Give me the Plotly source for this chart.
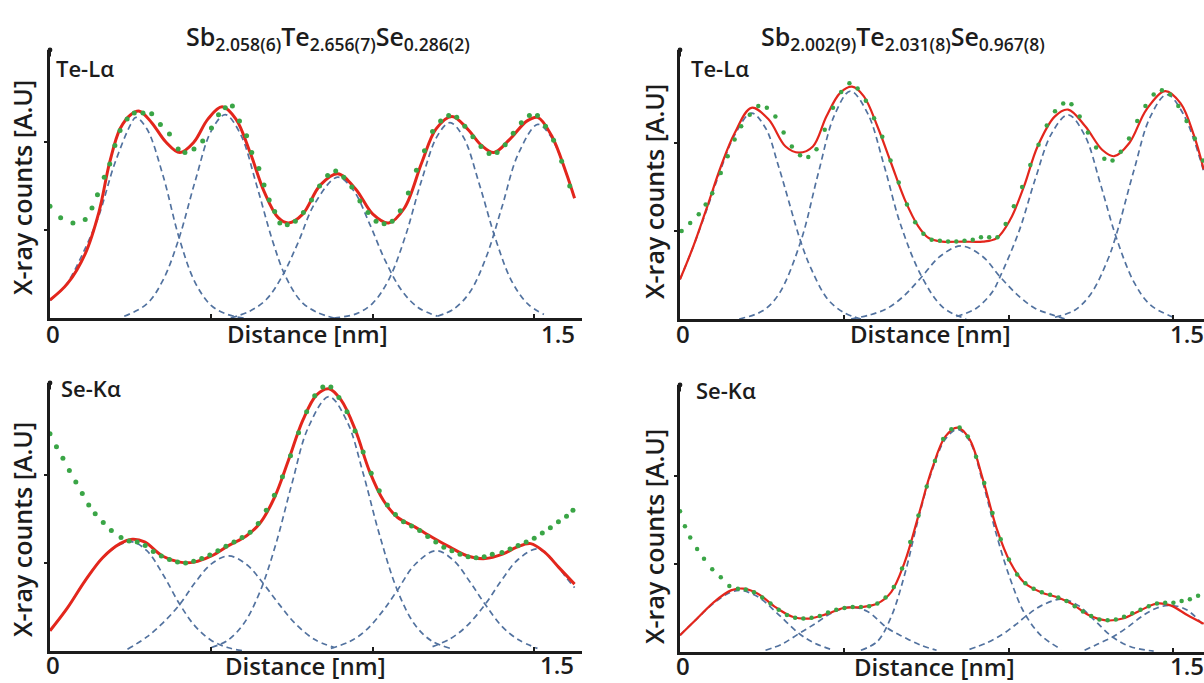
import plotly.graph_objects as go

W, H = 1204, 683

# ---------------- data ----------------
# Top-left: Sb2.058Te2.656Se0.286, Te-La
tl_fit_x = [0, 0.054, 0.109, 0.152, 0.185, 0.217, 0.25, 0.277, 0.315, 0.359, 0.402, 0.446, 0.489, 0.533,
            0.576, 0.62, 0.663, 0.707, 0.739, 0.783, 0.837, 0.891, 0.946, 1.0, 1.049, 1.098, 1.152, 1.196,
            1.245, 1.293, 1.337, 1.375, 1.424, 1.478, 1.511, 1.554, 1.598, 1.625]
tl_fit_y = [0.205, 0.39, 0.73, 1.21, 1.77, 2.15, 2.31, 2.35, 2.22, 2.0, 1.88, 2.0, 2.26, 2.40,
            2.26, 1.88, 1.44, 1.14, 1.08, 1.18, 1.51, 1.64, 1.47, 1.18, 1.08, 1.25, 1.77, 2.15,
            2.29, 2.15, 1.96, 1.88, 2.03, 2.24, 2.28, 2.07, 1.66, 1.36]
tl_dat_x = [0, 0.033, 0.071, 0.109, 0.13, 0.147, 0.168, 0.185, 0.201, 0.217, 0.239, 0.261, 0.288, 0.315,
            0.342, 0.37, 0.397, 0.418, 0.446, 0.473, 0.5, 0.522, 0.543, 0.565, 0.587, 0.609, 0.625, 0.647,
            0.663, 0.679, 0.696, 0.712, 0.735, 0.76, 0.785, 0.81, 0.835, 0.86, 0.885, 0.91, 0.935, 0.96,
            0.985, 1.01, 1.035, 1.06, 1.085, 1.11, 1.135, 1.16, 1.185, 1.21, 1.235, 1.26, 1.285, 1.31,
            1.335, 1.36, 1.385, 1.41, 1.435, 1.46, 1.485, 1.51, 1.535, 1.56, 1.585, 1.61]
tl_dat_y = [1.27, 1.14, 1.08, 1.12, 1.25, 1.40, 1.60, 1.75, 1.96, 2.13, 2.26, 2.33, 2.33, 2.32,
            2.20, 2.09, 1.92, 1.88, 1.92, 2.01, 2.16, 2.31, 2.39, 2.41, 2.24, 2.07, 1.88, 1.70,
            1.51, 1.34, 1.21, 1.08, 1.06, 1.10, 1.20, 1.34, 1.50, 1.62, 1.67, 1.60, 1.49, 1.33,
            1.20, 1.10, 1.07, 1.10, 1.22, 1.42, 1.68, 1.90, 2.12, 2.24, 2.30, 2.28, 2.18, 2.06,
            1.95, 1.87, 1.88, 1.97, 2.10, 2.22, 2.30, 2.30, 2.18, 2.02, 1.78, 1.50]
tl_gx = [
    [0, 0.05, 0.1, 0.15, 0.2, 0.25, 0.266, 0.3, 0.35, 0.4, 0.45, 0.5, 0.55, 0.6],
    [0.23, 0.3, 0.35, 0.4, 0.45, 0.5, 0.543, 0.59, 0.64, 0.69, 0.73, 0.78, 0.83, 0.88],
    [0.56, 0.62, 0.67, 0.72, 0.77, 0.82, 0.891, 0.94, 0.99, 1.04, 1.09, 1.14, 1.2],
    [0.88, 0.95, 1.0, 1.05, 1.1, 1.15, 1.2, 1.239, 1.28, 1.33, 1.38, 1.43, 1.48, 1.53],
    [1.2, 1.25, 1.3, 1.35, 1.4, 1.45, 1.511, 1.55, 1.6, 1.625],
]
tl_gy = [
    [0.2, 0.38, 0.72, 1.15, 1.75, 2.2, 2.28, 2.15, 1.62, 0.91, 0.40, 0.14, 0.04, 0.0],
    [0.02, 0.16, 0.43, 0.91, 1.56, 2.13, 2.31, 2.09, 1.51, 0.87, 0.47, 0.18, 0.06, 0.0],
    [0.0, 0.08, 0.21, 0.48, 0.87, 1.30, 1.60, 1.45, 1.07, 0.64, 0.31, 0.12, 0.02],
    [0.0, 0.05, 0.17, 0.44, 0.92, 1.55, 2.07, 2.22, 2.06, 1.52, 0.90, 0.42, 0.16, 0.04],
    [0.02, 0.10, 0.29, 0.68, 1.26, 1.86, 2.20, 2.07, 1.64, 1.36],
]

# Top-right: Sb2.002Te2.031Se0.967, Te-La
tr_fit_x = [0, 0.041, 0.083, 0.124, 0.166, 0.217, 0.269, 0.321, 0.362, 0.404, 0.445, 0.487, 0.523, 0.559,
            0.6, 0.642, 0.683, 0.725, 0.756, 0.797, 0.859, 0.921, 0.963, 1.004, 1.046, 1.087, 1.139, 1.18,
            1.232, 1.284, 1.32, 1.366, 1.418, 1.475, 1.522, 1.563, 1.592]
tr_fit_y = [0.45, 0.83, 1.28, 1.73, 2.11, 2.40, 2.27, 1.96, 1.89, 1.96, 2.30, 2.57, 2.64, 2.53,
            2.19, 1.77, 1.36, 1.05, 0.92, 0.88, 0.88, 0.88, 0.92, 1.13, 1.51, 1.96, 2.30, 2.38,
            2.19, 1.92, 1.85, 2.0, 2.38, 2.59, 2.45, 2.08, 1.70]
tr_dat_x = [0.005, 0.031, 0.057, 0.078, 0.098, 0.124, 0.145, 0.166, 0.186, 0.212, 0.238, 0.264, 0.29,
            0.315, 0.34, 0.365, 0.39, 0.415, 0.44, 0.465, 0.49, 0.515, 0.54, 0.565, 0.59, 0.615, 0.64,
            0.665, 0.69, 0.715, 0.74, 0.765, 0.79, 0.815, 0.84, 0.865, 0.89, 0.915, 0.94, 0.965, 0.99,
            1.015, 1.04, 1.065, 1.09, 1.115, 1.14, 1.165, 1.19, 1.215, 1.24, 1.265, 1.29, 1.315, 1.34,
            1.365, 1.39, 1.415, 1.44, 1.465, 1.49, 1.515, 1.54, 1.565, 1.59]
tr_dat_y = [1.0, 1.09, 1.19, 1.30, 1.43, 1.66, 1.85, 2.04, 2.19, 2.32, 2.42, 2.40, 2.30,
            2.12, 1.96, 1.86, 1.84, 1.93, 2.15, 2.40, 2.58, 2.68, 2.62, 2.48, 2.28, 2.07, 1.80,
            1.55, 1.30, 1.10, 0.97, 0.90, 0.89, 0.88, 0.88, 0.89, 0.90, 0.93, 0.93, 0.93, 1.08,
            1.28, 1.50, 1.75, 1.98, 2.20, 2.36, 2.45, 2.44, 2.30, 2.12, 1.95, 1.82, 1.80, 1.90,
            2.05, 2.25, 2.42, 2.55, 2.60, 2.55, 2.42, 2.25, 2.05, 1.80]
tr_gx = [
    [0, 0.04, 0.083, 0.124, 0.166, 0.217, 0.26, 0.3, 0.367, 0.4, 0.45, 0.5, 0.55],
    [0.18, 0.25, 0.3, 0.367, 0.42, 0.47, 0.518, 0.57, 0.62, 0.67, 0.735, 0.8, 0.87],
    [0.52, 0.58, 0.63, 0.68, 0.735, 0.79, 0.854, 0.92, 0.973, 1.03, 1.08, 1.13, 1.17],
    [0.84, 0.9, 0.95, 0.973, 1.03, 1.08, 1.13, 1.18, 1.23, 1.28, 1.325, 1.38, 1.43, 1.5],
    [1.14, 1.2, 1.25, 1.3, 1.325, 1.38, 1.43, 1.48, 1.53, 1.592],
]
tr_gy = [
    [0.45, 0.82, 1.26, 1.70, 2.09, 2.34, 2.17, 1.73, 0.88, 0.56, 0.22, 0.07, 0.0],
    [0.0, 0.09, 0.28, 0.88, 1.65, 2.32, 2.59, 2.34, 1.75, 1.08, 0.48, 0.13, 0.0],
    [0.0, 0.05, 0.12, 0.26, 0.48, 0.71, 0.83, 0.71, 0.48, 0.26, 0.12, 0.05, 0.0],
    [0.03, 0.12, 0.31, 0.48, 0.99, 1.59, 2.11, 2.32, 2.09, 1.51, 0.94, 0.42, 0.16, 0.02],
    [0.02, 0.10, 0.29, 0.67, 0.94, 1.69, 2.30, 2.55, 2.33, 1.68],
]

# Bottom-left: Sb2.058Te2.656Se0.286, Se-Ka
bl_fit_x = [0, 0.054, 0.109, 0.163, 0.217, 0.255, 0.293, 0.348, 0.402, 0.446, 0.5, 0.554, 0.609, 0.652,
            0.696, 0.739, 0.783, 0.826, 0.864, 0.902, 0.946, 0.989, 1.033, 1.076, 1.13, 1.185, 1.239,
            1.293, 1.348, 1.402, 1.446, 1.489, 1.533, 1.576, 1.625]
bl_fit_y = [0.23, 0.49, 0.80, 1.06, 1.22, 1.27, 1.24, 1.08, 1.01, 1.01, 1.08, 1.20, 1.31, 1.46,
            1.75, 2.17, 2.62, 2.91, 2.98, 2.85, 2.51, 2.05, 1.71, 1.52, 1.41, 1.29, 1.18,
            1.08, 1.05, 1.10, 1.18, 1.22, 1.12, 0.95, 0.76]
bl_dat_x = [0, 0.02, 0.04, 0.06, 0.08, 0.1, 0.12, 0.14, 0.165, 0.19, 0.22, 0.245, 0.27, 0.295, 0.32,
            0.345, 0.37, 0.395, 0.42, 0.445, 0.47, 0.495, 0.52, 0.545, 0.57, 0.595, 0.62, 0.645, 0.67,
            0.695, 0.72, 0.745, 0.77, 0.795, 0.82, 0.845, 0.87, 0.895, 0.92, 0.945, 0.97, 0.995, 1.02,
            1.045, 1.07, 1.095, 1.12, 1.145, 1.17, 1.195, 1.22, 1.245, 1.27, 1.295, 1.32, 1.345, 1.37,
            1.40, 1.425, 1.45, 1.475, 1.50, 1.525, 1.55, 1.575, 1.60, 1.62]
bl_dat_y = [2.47, 2.32, 2.19, 2.05, 1.92, 1.79, 1.66, 1.56, 1.46, 1.37, 1.29, 1.25, 1.24, 1.20, 1.13,
            1.08, 1.04, 1.01, 1.00, 1.02, 1.05, 1.09, 1.14, 1.19, 1.24, 1.29, 1.35, 1.45, 1.60,
            1.77, 1.98, 2.22, 2.48, 2.72, 2.90, 3.00, 3.00, 2.88, 2.72, 2.50, 2.26, 2.02, 1.82,
            1.66, 1.55, 1.47, 1.42, 1.37, 1.30, 1.24, 1.18, 1.14, 1.10, 1.07, 1.06, 1.07, 1.10,
            1.12, 1.16, 1.20, 1.24, 1.28, 1.34, 1.40, 1.47, 1.53, 1.60]
bl_gx = [
    [0, 0.054, 0.109, 0.163, 0.217, 0.255, 0.3, 0.35, 0.402, 0.45, 0.5, 0.55, 0.6],
    [0.24, 0.3, 0.35, 0.402, 0.45, 0.5, 0.554, 0.61, 0.66, 0.71, 0.76, 0.82, 0.88],
    [0.5, 0.55, 0.6, 0.65, 0.7, 0.75, 0.8, 0.864, 0.92, 0.97, 1.02, 1.076, 1.13, 1.18, 1.24],
    [0.87, 0.93, 0.98, 1.03, 1.076, 1.13, 1.196, 1.25, 1.3, 1.348, 1.4, 1.45, 1.51],
    [1.185, 1.24, 1.29, 1.348, 1.4, 1.45, 1.511, 1.56, 1.6, 1.625],
]
bl_gy = [
    [0.23, 0.49, 0.80, 1.06, 1.21, 1.24, 1.14, 0.87, 0.53, 0.28, 0.12, 0.04, 0.0],
    [0.02, 0.16, 0.32, 0.53, 0.78, 0.99, 1.08, 0.98, 0.77, 0.53, 0.31, 0.13, 0.04],
    [0.04, 0.12, 0.31, 0.67, 1.22, 1.91, 2.54, 2.89, 2.61, 2.02, 1.33, 0.69, 0.30, 0.12, 0.03],
    [0.03, 0.11, 0.24, 0.45, 0.69, 0.98, 1.14, 1.03, 0.79, 0.53, 0.28, 0.13, 0.03],
    [0.05, 0.14, 0.28, 0.53, 0.81, 1.04, 1.16, 1.02, 0.83, 0.72],
]

# Bottom-right: Sb2.002Te2.031Se0.967, Se-Ka
br_fit_x = [0, 0.052, 0.104, 0.155, 0.192, 0.238, 0.29, 0.342, 0.393, 0.445, 0.497, 0.549, 0.6, 0.642,
            0.683, 0.725, 0.766, 0.807, 0.844, 0.88, 0.921, 0.963, 1.004, 1.046, 1.097, 1.149, 1.19,
            1.242, 1.294, 1.346, 1.398, 1.449, 1.491, 1.542, 1.592]
br_fit_y = [0.19, 0.38, 0.57, 0.70, 0.72, 0.66, 0.51, 0.40, 0.38, 0.43, 0.50, 0.51, 0.55, 0.68,
            1.02, 1.55, 2.08, 2.45, 2.55, 2.42, 1.96, 1.40, 1.02, 0.79, 0.68, 0.62, 0.55,
            0.42, 0.36, 0.38, 0.47, 0.55, 0.53, 0.42, 0.32]
br_dat_x = [0, 0.015, 0.031, 0.052, 0.073, 0.098, 0.124, 0.15, 0.176, 0.2, 0.225, 0.25, 0.275, 0.3,
            0.325, 0.35, 0.375, 0.4, 0.425, 0.45, 0.475, 0.5, 0.525, 0.55, 0.575, 0.6, 0.625, 0.65,
            0.675, 0.7, 0.725, 0.75, 0.775, 0.8, 0.825, 0.85, 0.875, 0.9, 0.925, 0.95, 0.975, 1.0,
            1.025, 1.05, 1.075, 1.1, 1.125, 1.15, 1.175, 1.2, 1.225, 1.25, 1.275, 1.3, 1.325, 1.35,
            1.375, 1.4, 1.425, 1.45, 1.475, 1.5, 1.525, 1.55, 1.575]
br_dat_y = [1.60, 1.43, 1.30, 1.17, 1.06, 0.94, 0.85, 0.75, 0.72, 0.71, 0.68, 0.62, 0.55, 0.48,
            0.42, 0.39, 0.38, 0.39, 0.41, 0.45, 0.48, 0.50, 0.51, 0.51, 0.52, 0.55, 0.62, 0.74,
            0.95, 1.25, 1.55, 1.88, 2.17, 2.42, 2.53, 2.55, 2.45, 2.22, 1.92, 1.58, 1.28, 1.05,
            0.88, 0.78, 0.72, 0.68, 0.65, 0.62, 0.58, 0.52, 0.46, 0.41, 0.37, 0.36, 0.37, 0.40,
            0.44, 0.48, 0.52, 0.55, 0.56, 0.56, 0.58, 0.60, 0.64]
br_gx = [
    [0, 0.052, 0.104, 0.155, 0.186, 0.24, 0.29, 0.362, 0.41, 0.466],
    [0.26, 0.31, 0.362, 0.41, 0.46, 0.518, 0.57, 0.631, 0.68, 0.73, 0.78],
    [0.55, 0.6, 0.642, 0.683, 0.725, 0.766, 0.807, 0.844, 0.88, 0.921, 0.963, 1.004, 1.046, 1.097, 1.159],
    [0.88, 0.93, 0.98, 1.02, 1.056, 1.1, 1.159, 1.21, 1.26, 1.315, 1.37, 1.44],
    [1.23, 1.27, 1.315, 1.36, 1.41, 1.45, 1.491, 1.54, 1.592],
]
br_gy = [
    [0.19, 0.38, 0.56, 0.68, 0.70, 0.62, 0.46, 0.21, 0.10, 0.02],
    [0.02, 0.09, 0.21, 0.32, 0.44, 0.51, 0.46, 0.27, 0.17, 0.08, 0.02],
    [0.02, 0.12, 0.40, 0.88, 1.52, 2.06, 2.42, 2.53, 2.40, 1.92, 1.32, 0.83, 0.45, 0.19, 0.03],
    [0.03, 0.10, 0.20, 0.31, 0.42, 0.53, 0.60, 0.53, 0.36, 0.17, 0.06, 0.01],
    [0.02, 0.09, 0.17, 0.28, 0.42, 0.50, 0.53, 0.48, 0.30],
]

titles = ["Sb<sub>2.058(6)</sub>Te<sub>2.656(7)</sub>Se<sub>0.286(2)</sub>",
          "Sb<sub>2.002(9)</sub>Te<sub>2.031(8)</sub>Se<sub>0.967(8)</sub>"]
line_labels = ["Te-Lα", "Se-Kα"]
x_title = "Distance [nm]"
y_title = "X-ray counts [A.U]"
x_tick_labels = ["0", "1.5"]

# ---------------- figure ----------------
RED = "#e3261c"
GREEN = "#3aa546"
BLUE = "#52729f"
INK = "#1c1c1c"
FONT = "Open Sans"

def px(x):
    return x / W

def py(y):
    return 1 - y / H

panels = [
    dict(fx=tl_fit_x, fy=tl_fit_y, dx=tl_dat_x, dy=tl_dat_y, gx=tl_gx, gy=tl_gy,
         x0=50, x1=582, yb=318, yt=50, xmax=1.648, lw=3, ms=5),
    dict(fx=tr_fit_x, fy=tr_fit_y, dx=tr_dat_x, dy=tr_dat_y, gx=tr_gx, gy=tr_gy,
         x0=680, x1=1204, yb=319, yt=50, xmax=1.593, lw=2.2, ms=4.5),
    dict(fx=bl_fit_x, fy=bl_fit_y, dx=bl_dat_x, dy=bl_dat_y, gx=bl_gx, gy=bl_gy,
         x0=50, x1=582, yb=651, yt=383, xmax=1.648, lw=3, ms=5),
    dict(fx=br_fit_x, fy=br_fit_y, dx=br_dat_x, dy=br_dat_y, gx=br_gx, gy=br_gy,
         x0=680, x1=1204, yb=652, yt=385, xmax=1.593, lw=2.2, ms=4.5),
]
PX_PER_UNIT = 88.0

fig = go.Figure()
layout = dict(width=W, height=H, margin=dict(l=0, r=0, t=0, b=0),
              paper_bgcolor="white", plot_bgcolor="white", showlegend=False)
annotations = []

for i, p in enumerate(panels):
    n = "" if i == 0 else str(i + 1)
    xa, ya = "x" + n, "y" + n
    ymax = (p["yb"] - p["yt"]) / PX_PER_UNIT
    layout["xaxis" + n] = dict(domain=[px(p["x0"]), min(1.0, px(p["x1"]))], range=[0, p["xmax"]],
                               anchor=ya, showline=True, linecolor=INK, linewidth=2.5,
                               ticks="inside", ticklen=4, tickwidth=2, tickcolor=INK,
                               tickvals=[0, 0.5, 1.0, 1.5], showticklabels=False,
                               showgrid=False, zeroline=False, fixedrange=True)
    layout["yaxis" + n] = dict(domain=[py(p["yb"]), py(p["yt"])], range=[0, ymax],
                               anchor=xa, showline=True, linecolor=INK, linewidth=2.5,
                               ticks="outside", ticklen=3, tickwidth=1.5, tickcolor=INK,
                               tickvals=[1, 2], showticklabels=False,
                               showgrid=False, zeroline=False, fixedrange=True)
    for gx, gy in zip(p["gx"], p["gy"]):
        fig.add_trace(go.Scatter(x=gx, y=gy, xaxis=xa, yaxis=ya, mode="lines",
                                 line=dict(color=BLUE, width=1.7, dash="6px,4px", shape="spline"),
                                 hoverinfo="skip"))
    fig.add_trace(go.Scatter(x=p["fx"], y=p["fy"], xaxis=xa, yaxis=ya, mode="lines",
                             line=dict(color=RED, width=p["lw"], shape="spline"), hoverinfo="skip"))
    fig.add_trace(go.Scatter(x=p["dx"], y=p["dy"], xaxis=xa, yaxis=ya, mode="markers",
                             marker=dict(color=GREEN, size=p["ms"]), cliponaxis=False,
                             hoverinfo="skip"))
    annotations.append(dict(x=0, y=ymax, xref=xa, yref=ya, ax=0, ay=8, showarrow=True,
                            arrowhead=6, arrowsize=0.6, arrowwidth=2, arrowcolor=INK, text=""))

def text_ann(text, x, y, size, angle=0):
    return dict(x=px(x), y=py(y), xref="paper", yref="paper", text=text, showarrow=False,
                xanchor="center", yanchor="middle", textangle=angle,
                font=dict(family=FONT, size=size, color=INK, weight=600))

title_pos = [(328, 38), (903, 38)]
for t, (x, y) in zip(titles, title_pos):
    annotations.append(text_ann(t, x, y, 25))

label_pos = [(85, 68, 0), (720, 68, 0), (91, 388, 1), (726, 390, 1)]
for x, y, k in label_pos:
    annotations.append(text_ann(line_labels[k], x, y, 22))

xt_pos = [(307, 333), (930, 333), (305, 665), (935, 666)]
for x, y in xt_pos:
    annotations.append(text_ann(x_title, x, y, 24))

yt_pos = [(22, 188), (654, 191), (22, 530), (654, 536)]
for x, y in yt_pos:
    annotations.append(text_ann(y_title, x, y, 25, -90))

tick_pos = [((53, 333), (558, 333)), ((683, 333), (1187, 333)),
            ((53, 664), (557, 664)), ((683, 665), (1187, 665))]
for pair in tick_pos:
    for lab, (x, y) in zip(x_tick_labels, pair):
        annotations.append(text_ann(lab, x, y, 24))

layout["annotations"] = annotations
fig.update_layout(**layout)
fig.write_html("out.html")
